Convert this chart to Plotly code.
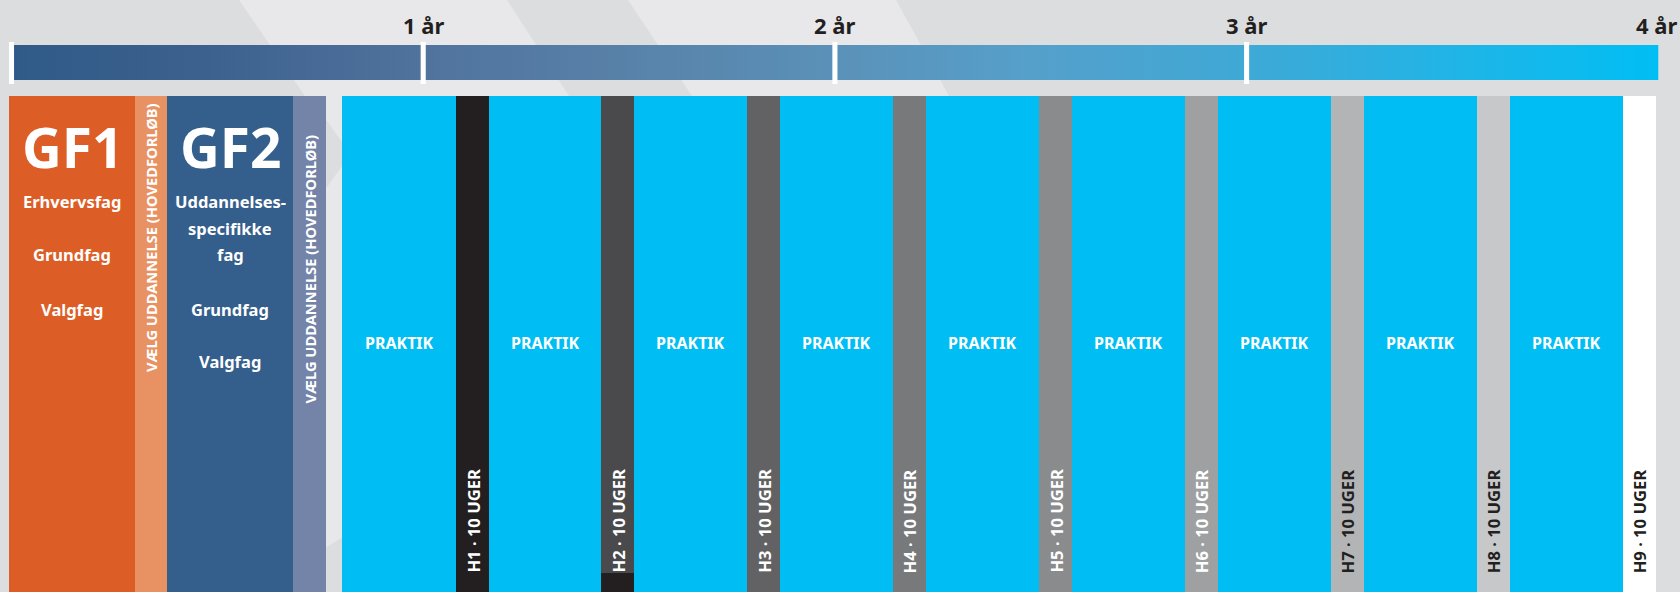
import plotly.graph_objects as go

# ---------------- data ----------------
year_label_pos = [1, 2, 3, 4]
year_labels = ["1 år", "2 år", "3 år", "4 år"]
year_ticks = [0, 1, 2, 3]

gf_start = [-0.006, 0.300, 0.378, 0.684]
gf_end = [0.300, 0.378, 0.684, 0.764]
gf_colors = ["#dc5e26", "#e89263", "#345e8b", "#7483a8"]
gf_titles = ["GF1", None, "GF2", None]
choose_label = "VÆLG UDDANNELSE (HOVEDFORLØB)"

gf1_subjects = ["Erhvervsfag", "Grundfag", "Valgfag"]
gf2_subjects = ["Uddannelses-", "specifikke", "fag", "Grundfag", "Valgfag"]

praktik_label = "PRAKTIK"
praktik_start = [0.803, 1.160, 1.512, 1.867, 2.221, 2.576, 2.930, 3.285, 3.639]
praktik_end = [1.080, 1.432, 1.787, 2.141, 2.496, 2.850, 3.205, 3.559, 3.914]

h_labels = ["H1 · 10 UGER", "H2 · 10 UGER", "H3 · 10 UGER", "H4 · 10 UGER", "H5 · 10 UGER",
            "H6 · 10 UGER", "H7 · 10 UGER", "H8 · 10 UGER", "H9 · 10 UGER"]
h_start = [1.080, 1.432, 1.787, 2.141, 2.496, 2.850, 3.205, 3.559, 3.914]
h_end = [1.160, 1.512, 1.867, 2.221, 2.576, 2.930, 3.285, 3.639, 3.994]
h_colors = ["#231f20", "#4a4a4c", "#626264", "#78797b", "#8a8b8d",
            "#9fa0a2", "#b3b4b6", "#c7c8ca", "#ffffff"]
h_text_colors = ["#ffffff"] * 6 + ["#231f20"] * 3

timeline_start, timeline_end = -0.006, 4.0
timeline_colors = [[0.00, "#2f5a88"], [0.12, "#3d618e"], [0.25, "#50739d"],
                   [0.37, "#5881a8"], [0.50, "#5b91b8"], [0.62, "#55a0cb"],
                   [0.75, "#3fa9d6"], [0.87, "#22b4e6"], [1.00, "#00bef3"]]

# ---------------- layout helpers ----------------
PX0, PXY = 11.5, 411.7          # pixel of year 0, pixels per year


def fx(px):
    return (px - PX0) / PXY


FONT = "Noto Sans, DejaVu Sans Condensed, sans-serif"
TOP, BOTTOM = 96, 592


def f(size, color="#ffffff"):
    return dict(family=FONT, size=size, color=color, weight="bold")


fig = go.Figure()

# timeline gradient bar
fig.add_trace(go.Scatter(
    x=[timeline_start, timeline_end, timeline_end, timeline_start, timeline_start],
    y=[45, 45, 80, 80, 45], mode="lines", fill="toself",
    line=dict(width=0), fillgradient=dict(type="horizontal", colorscale=timeline_colors),
    hoverinfo="skip", showlegend=False))


def bars(starts, ends, colors, base=TOP):
    fig.add_trace(go.Bar(
        x=[(s + e) / 2 for s, e in zip(starts, ends)],
        width=[e - s for s, e in zip(starts, ends)],
        base=[base] * len(starts),
        y=[BOTTOM - base] * len(starts),
        marker=dict(color=colors, line=dict(width=0)),
        hoverinfo="skip", showlegend=False))


bars(gf_start, gf_end, gf_colors)
bars(praktik_start, praktik_end, ["#00bef3"] * len(praktik_start))
bars(h_start, h_end, h_colors)
# dark foot of H2 column
bars([h_start[1]], [h_end[1]], [h_colors[0]], base=573)

ann = []
for xp, lab in zip(year_label_pos, year_labels):
    ann.append(dict(x=xp, y=25, text=lab, showarrow=False, xshift=-2 if xp == 4 else 0,
                    font=f(22, "#231f20")))

gf1_c = (gf_start[0] + gf_end[0]) / 2
gf2_c = (gf_start[2] + gf_end[2]) / 2
for c, t in [(gf1_c, gf_titles[0]), (gf2_c, gf_titles[2])]:
    ann.append(dict(x=c, y=146, text=t, showarrow=False, font=f(55)))
for t, yy in zip(gf1_subjects, [201, 254, 309]):
    ann.append(dict(x=gf1_c, y=yy, text=t, showarrow=False, font=f(16.5)))
for t, yy in zip(gf2_subjects, [201, 228, 254, 309, 361]):
    ann.append(dict(x=gf2_c, y=yy, text=t, showarrow=False, font=f(16.5)))

for i, yy in [(1, 238), (3, 269)]:
    ann.append(dict(x=(gf_start[i] + gf_end[i]) / 2, y=yy, text=choose_label, textangle=-90,
                    showarrow=False, font=f(14.7)))

for s, e in zip(praktik_start, praktik_end):
    ann.append(dict(x=(s + e) / 2, y=343, text=praktik_label, showarrow=False, font=f(16)))

for s, e, t, c in zip(h_start, h_end, h_labels, h_text_colors):
    ann.append(dict(x=(s + e) / 2, y=521, text=t, textangle=-90, showarrow=False,
                    font=f(16.6, c)))

LIGHT = "#e8e8ea"
DARK = "#dcdddf"


def poly(pts, color, layer="below"):
    path = "M " + " L ".join(f"{fx(px)},{py}" for px, py in pts) + " Z"
    return dict(type="path", path=path, xref="x", yref="y", fillcolor=color,
                line=dict(width=0), layer=layer)


shapes = [
    poly([(239, 0), (507, 0), (569, 96), (305, 96)], LIGHT),
    poly([(628, 0), (896, 0), (949, 96), (692, 96)], LIGHT),
    poly([(322, 90), (346, 90), (346, 592), (322, 592)], LIGHT),
    poly([(322, 114), (342, 142), (346, 142), (346, 166), (342, 166), (322, 194)], DARK),
    poly([(322, 550), (346, 535), (346, 592), (322, 592)], DARK),
]
for t in year_ticks:
    shapes.append(dict(type="rect", xref="x", yref="y", x0=t - 0.0062, x1=t + 0.0062,
                       y0=42, y1=84, fillcolor="#ffffff", line=dict(width=0), layer="above"))

fig.update_layout(
    width=1680, height=592, margin=dict(l=0, r=0, t=0, b=0),
    paper_bgcolor=DARK, plot_bgcolor=DARK, barmode="overlay", bargap=0,
    xaxis=dict(range=[fx(0), fx(1680)], visible=False, fixedrange=True),
    yaxis=dict(range=[592, 0], visible=False, fixedrange=True),
    annotations=ann, shapes=shapes, showlegend=False,
)

post = "document.body.style.margin='0';document.body.style.overflow='hidden';"
fig.write_html("out.html", config={"displayModeBar": False}, post_script=post)
